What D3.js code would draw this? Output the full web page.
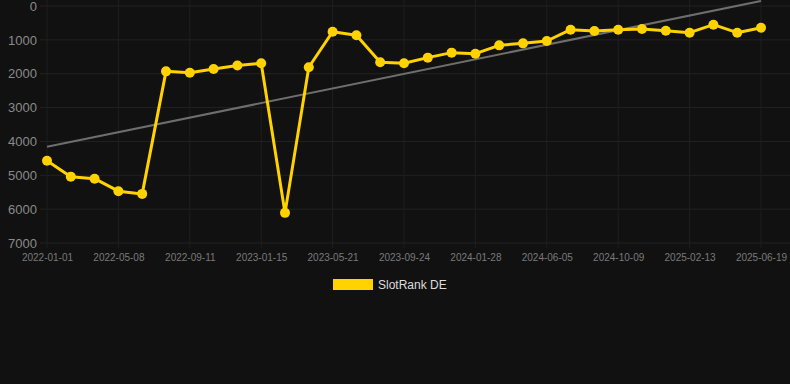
<!DOCTYPE html>
<html><head><meta charset="utf-8">
<script src="https://cdn.jsdelivr.net/npm/d3@7"></script>
<style>
html,body{margin:0;padding:0;background:#111111;}
svg{display:block;font-family:"Liberation Sans",Arial,Helvetica,sans-serif;}
</style></head><body>
<div id="chart"></div>
<script>
const dates = ["2022-01-01","2022-02-12","2022-03-26","2022-05-08","2022-06-19","2022-07-31","2022-09-11","2022-10-23","2022-12-04","2023-01-15","2023-02-26","2023-04-09","2023-05-21","2023-07-02","2023-08-13","2023-09-24","2023-11-05","2023-12-17","2024-01-28","2024-03-10","2024-04-23","2024-06-05","2024-07-17","2024-08-28","2024-10-09","2024-11-20","2025-01-01","2025-02-13","2025-03-27","2025-05-08","2025-06-19"];
const slotRankDE = [4570,5040,5100,5470,5550,1930,1970,1860,1760,1690,6110,1810,760,866,1663,1693,1525,1378,1408,1162,1103,1034,700,738,700,680,730,788,552,788,640];
const trendValues = [4160,-150];
const yTicks = [0,1000,2000,3000,4000,5000,6000,7000];
const xTickLabels = ["2022-01-01","2022-05-08","2022-09-11","2023-01-15","2023-05-21","2023-09-24","2024-01-28","2024-06-05","2024-10-09","2025-02-13","2025-06-19"];
const seriesName = "SlotRank DE";

const W=790,H=384;
const svg=d3.select("#chart").append("svg").attr("width",W).attr("height",H);
svg.append("rect").attr("width",W).attr("height",H).attr("fill","#111111");

const x=d3.scalePoint().domain(dates).range([47,761]);
const y=d3.scaleLinear().domain([0,7000]).range([6,243]);

// grid
const g=svg.append("g");
g.selectAll("line.h").data(yTicks).enter().append("line")
 .attr("x1",40).attr("x2",W).attr("y1",d=>y(d)).attr("y2",d=>y(d))
 .attr("stroke","#222").attr("stroke-width",1);
g.selectAll("line.v").data(xTickLabels).enter().append("line")
 .attr("x1",d=>x(d)).attr("x2",d=>x(d)).attr("y1",0).attr("y2",248)
 .attr("stroke","#1f1f1f").attr("stroke-width",1);

// y axis
const yAxis=d3.axisLeft(y).tickValues(yTicks).tickSize(0).tickPadding(0).tickFormat(d3.format("d"));
const ya=svg.append("g").attr("transform","translate(37,0)").call(yAxis);
ya.select(".domain").remove();
ya.selectAll("text").attr("fill","#8a8a8a").style("font-size","13px");

// x axis
const xAxis=d3.axisBottom(x).tickValues(xTickLabels).tickSize(0).tickPadding(0);
const xa=svg.append("g").attr("transform","translate(0,254)").call(xAxis);
xa.select(".domain").remove();
xa.selectAll("text").attr("fill","#7a7a7a").style("font-size","10px").attr("dy","0.71em");

// trend line
svg.append("line")
 .attr("x1",x(dates[0])).attr("y1",y(trendValues[0]))
 .attr("x2",x(dates[dates.length-1])).attr("y2",y(trendValues[1]))
 .attr("stroke","#6e6e6e").attr("stroke-width",2);

// series line
const data=dates.map((d,i)=>({d,v:slotRankDE[i]}));
svg.append("path").datum(data)
 .attr("fill","none").attr("stroke","#ffd200").attr("stroke-width",3).attr("stroke-linejoin","round")
 .attr("d",d3.line().x(p=>x(p.d)).y(p=>y(p.v)));
svg.selectAll("circle.pt").data(data).enter().append("circle")
 .attr("cx",p=>x(p.d)).attr("cy",p=>y(p.v)).attr("r",5).attr("fill","#ffd200");

// legend
const lg=svg.append("g");
lg.append("rect").attr("x",333).attr("y",279).attr("width",40).attr("height",11).attr("fill","#ffd200");
lg.append("text").attr("x",378).attr("y",289).attr("fill","#dddddd").style("font-size","12px").text(seriesName);
</script>
</body></html>
